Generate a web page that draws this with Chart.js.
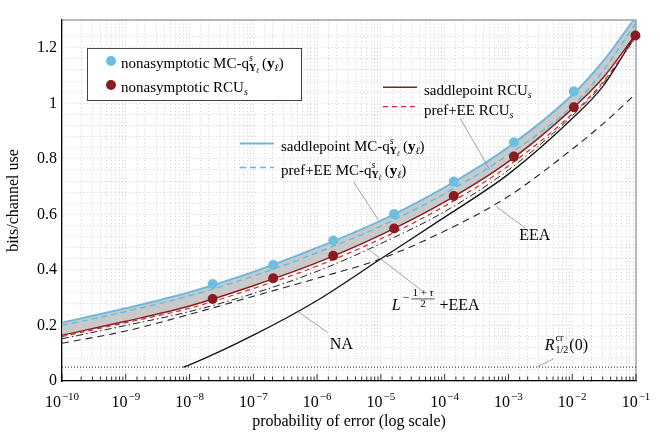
<!DOCTYPE html>
<html>
<head>
<meta charset="utf-8">
<title>bits/channel use vs probability of error</title>
<script src="https://cdn.jsdelivr.net/npm/chart.js@4.4.1/dist/chart.umd.min.js"></script>
<style>
  html, body { margin: 0; padding: 0; background: #fff; }
</style>
</head>
<body>
<canvas id="chart" width="660" height="439"></canvas>
<script>
const pGrid = [1e-10, 1e-9, 1e-8, 1e-7, 1e-6, 1e-5, 1e-4, 1e-3, 1e-2, 3e-2, 1e-1];
const saddleMC  = [0.210, 0.262, 0.320, 0.393, 0.480, 0.578, 0.698, 0.843, 1.030, 1.150, 1.312];
const prefMC    = [0.200, 0.250, 0.307, 0.378, 0.462, 0.558, 0.675, 0.815, 0.990, 1.115, 1.290];
const saddleRCU = [0.165, 0.215, 0.270, 0.343, 0.426, 0.526, 0.645, 0.790, 0.980, 1.090, 1.250];
const prefRCU   = [0.160, 0.210, 0.262, 0.333, 0.414, 0.512, 0.630, 0.775, 0.962, 1.075, 1.240];
const lTauEEA   = [0.152, 0.200, 0.250, 0.315, 0.395, 0.495, 0.610, 0.760, 0.955, 1.070, 1.240];
const eea       = [0.136, 0.180, 0.240, 0.305, 0.370, 0.440, 0.540, 0.665, 0.835, 0.925, 1.035];

// normal approximation starts at the critical rate
const pNA = [8e-9, 1e-8, 1e-7, 1e-6, 1e-5, 1e-4, 1e-3, 1e-2, 3e-2, 1e-1];
const na  = [0.050, 0.058, 0.165, 0.290, 0.440, 0.590, 0.745, 0.945, 1.060, 1.250];

// R^cr_{1/2}(0)
const pRcr = [1e-10, 1e-1];
const rcr  = [0.050, 0.050];

// simulated (nonasymptotic) points
const pDots   = [2.30e-8, 2.05e-7, 1.79e-6, 1.61e-5, 1.39e-4, 1.22e-3, 1.06e-2, 9.8e-2];
const mcDots  = [0.349, 0.418, 0.506, 0.601, 0.718, 0.860, 1.043];
const rcuDots = [0.295, 0.370, 0.451, 0.549, 0.666, 0.808, 0.986, 1.244];

const yLabelStep = 0.2;

const SERIF = "'Liberation Serif', 'DejaVu Serif', 'Times New Roman', serif";
const font = (size, style) => (style ? style + ' ' : '') + size + 'px ' + SERIF;

const BLUE = '#66b8de', BLUE_DASH = '#4fc0ec', BLUE_DOT = '#6dbfe2';
const RED = '#8c1c1c', RED_DASH = '#cc2630', RED_DOT = '#8a1b20';
const BAND = '#c9c9c9';

const pts = (xs, ys) => ys.map((y, i) => ({ x: xs[i], y: y }));

function curve(label, xs, ys, color, width, dash, extra) {
    return Object.assign({
        label: label,
        data: pts(xs, ys),
        borderColor: color,
        borderWidth: width,
        borderDash: dash || [],
        pointRadius: 0,
        fill: false,
        cubicInterpolationMode: 'monotone'
    }, extra || {});
}

const isDecade = v => {
    const e = Math.log10(v);
    return Math.abs(e - Math.round(e)) < 1e-9;
};

// draw a run of text pieces; a piece with stack:true starts at the same x as the piece before it
function drawRich(ctx, x, y, parts, measureOnly) {
    let cx = x, prevX = x, prevW = 0;
    parts.forEach(p => {
        ctx.font = p.font;
        const w = ctx.measureText(p.t).width;
        const px = p.stack ? prevX : cx + (p.gap || 0);
        if (!measureOnly) ctx.fillText(p.t, px, y + (p.dy || 0));
        if (p.stack) {
            cx = Math.max(prevX + prevW, px + w);
            prevW = Math.max(prevW, w);
        } else {
            prevX = px; prevW = w; cx = px + w;
        }
    });
    return cx;
}

// q^s_{Y_l}(y_l)
function qPieces(size) {
    return [
        { t: 's', font: font(10, 'italic'), dy: -7 },
        { t: 'Y', font: font(10, 'bold'), dy: 3, stack: true },
        { t: 'ℓ', font: font(7, 'italic'), dy: 5 },
        { t: '(', font: font(size), gap: 3 },
        { t: 'y', font: font(size, 'bold') },
        { t: 'ℓ', font: font(10, 'italic'), dy: 3 },
        { t: ')', font: font(size) }
    ];
}

function line(ctx, x1, y1, x2, y2) {
    ctx.beginPath(); ctx.moveTo(x1, y1); ctx.lineTo(x2, y2); ctx.stroke();
}

const decor = {
    id: 'decor',
    beforeDatasetsDraw(chart) {
        const { ctx, chartArea: ca, scales: { x } } = chart;
        ctx.save();
        // top and right frame
        ctx.strokeStyle = '#7a7a7a';
        ctx.lineWidth = 1;
        line(ctx, ca.left, ca.top, ca.right, ca.top);
        line(ctx, ca.right, ca.top, ca.right, ca.bottom);
        // tick marks inside the bottom axis
        ctx.strokeStyle = '#000';
        ctx.lineWidth = 0.8;
        x.ticks.forEach(t => {
            const px = x.getPixelForValue(t.value);
            line(ctx, px, ca.bottom, px, ca.bottom - (isDecade(t.value) ? 7 : 4.5));
        });
        // decade labels 10^k under the axis
        ctx.fillStyle = '#000';
        ctx.textBaseline = 'alphabetic';
        ctx.textAlign = 'left';
        x.ticks.filter(t => isDecade(t.value)).forEach(t => {
            const e = Math.round(Math.log10(t.value));
            const parts = [
                { t: '10', font: font(16) },
                { t: (e < 0 ? '\u2212' : '') + Math.abs(e), font: font(11), dy: -7, gap: 1 }
            ];
            const w = drawRich(ctx, 0, 0, parts, true);
            drawRich(ctx, x.getPixelForValue(t.value) - w / 2, ca.bottom + 26, parts);
        });
        ctx.restore();
    },
    afterDatasetsDraw(chart) {
        const { ctx, chartArea: ca, scales: { x, y } } = chart;
        const X = lp => x.getPixelForValue(Math.pow(10, lp));
        const Y = v => y.getPixelForValue(v);
        ctx.save();
        ctx.textBaseline = 'alphabetic';
        ctx.textAlign = 'left';
        ctx.fillStyle = '#000';

        // leader lines of the annotations
        ctx.strokeStyle = '#8a8a8a';
        ctx.lineWidth = 0.8;
        [
            [-5.83, 0.174, -6.30, 0.250],
            [-2.73, 0.550, -3.19, 0.628],
            [-4.33, 0.321, -5.22, 0.478],
            [-2.30, 0.079, -2.54, 0.052],
            [-3.76, 0.947, -3.29, 0.760],
            [-5.43, 0.718, -5.04, 0.580]
        ].forEach(s => line(ctx, X(s[0]), Y(s[1]), X(s[2]), Y(s[3])));

        // annotation texts
        drawRich(ctx, X(-5.80), Y(0.115), [{ t: 'NA', font: font(16) }]);
        drawRich(ctx, X(-2.83), Y(0.508), [{ t: 'EEA', font: font(16) }]);

        // L^{-(1+tau)/2} +EEA
        let lx = X(-4.83), ly = Y(0.256);
        lx = drawRich(ctx, lx, ly, [
            { t: 'L', font: font(16, 'italic') },
            { t: '\u2212', font: font(12), dy: -9, gap: 2 }
        ]);
        ctx.font = font(11);
        const num = '1 + ', tau = 'τ';
        const nw = ctx.measureText(num).width;
        ctx.font = font(11, 'italic');
        const tw = ctx.measureText(tau).width;
        const fw = nw + tw + 2;
        const fx = lx + 2;
        drawRich(ctx, fx + 1, ly - 14, [{ t: num, font: font(11) }, { t: tau, font: font(11, 'italic') }]);
        ctx.strokeStyle = '#000';
        ctx.lineWidth = 0.7;
        line(ctx, fx, ly - 11, fx + fw, ly - 11);
        ctx.font = font(11);
        const dw = ctx.measureText('2').width;
        ctx.fillText('2', fx + (fw - dw) / 2, ly - 3);
        drawRich(ctx, fx + fw + 5, ly, [{ t: '+EEA', font: font(16) }]);

        // R^cr_{1/2}(0)
        drawRich(ctx, X(-2.43), Y(0.112), [
            { t: 'R', font: font(16, 'italic') },
            { t: 'cr', font: font(10), dy: -9, gap: 1 },
            { t: '1/2', font: font(10), dy: 3.5, stack: true },
            { t: '(0)', font: font(16), gap: 1 }
        ]);

        // framed legend with the simulated points
        const bx = ca.left + 25, by = ca.top + 28;
        ctx.fillStyle = '#fff';
        ctx.fillRect(bx, by, 214, 52);
        ctx.strokeStyle = '#444';
        ctx.lineWidth = 1;
        ctx.strokeRect(bx + 0.5, by + 0.5, 214, 52);
        [[BLUE_DOT, 13], [RED_DOT, 37]].forEach(d => {
            ctx.fillStyle = d[0];
            ctx.beginPath();
            ctx.arc(bx + 24, by + d[1], 5, 0, Math.PI * 2);
            ctx.fill();
        });
        ctx.fillStyle = '#000';
        drawRich(ctx, bx + 34, by + 20, [{ t: 'nonasymptotic MC-q', font: font(15) }].concat(qPieces(15)));
        drawRich(ctx, bx + 34, by + 44, [
            { t: 'nonasymptotic RCU', font: font(15) },
            { t: 's', font: font(10, 'italic'), dy: 3 }
        ]);

        // legend of the saddlepoint / prefactor curves
        const rows = [
            [ca.left + 178, ca.top + 123.5, BLUE, [], 1.8, ca.top + 131,
                [{ t: 'saddlepoint MC-q', font: font(15) }].concat(qPieces(15))],
            [ca.left + 178, ca.top + 147.5, BLUE_DASH, [6, 4], 1.3, ca.top + 155,
                [{ t: 'pref+EE MC-q', font: font(15) }].concat(qPieces(15))],
            [ca.left + 321, ca.top + 67.3, RED, [], 1.4, ca.top + 75,
                [{ t: 'saddlepoint RCU', font: font(15) }, { t: 's', font: font(10, 'italic'), dy: 3 }]],
            [ca.left + 321, ca.top + 86.7, RED_DASH, [5, 4], 1.2, ca.top + 95,
                [{ t: 'pref+EE RCU', font: font(15) }, { t: 's', font: font(10, 'italic'), dy: 3 }]]
        ];
        rows.forEach(r => {
            ctx.strokeStyle = r[2];
            ctx.setLineDash(r[3]);
            ctx.lineWidth = r[4];
            line(ctx, r[0], r[1], r[0] + 34, r[1]);
            ctx.setLineDash([]);
            ctx.fillStyle = '#000';
            drawRich(ctx, r[0] + 41, r[5], r[6]);
        });
        ctx.restore();
    }
};

new Chart(document.getElementById('chart'), {
    type: 'line',
    data: {
        datasets: [
            { label: 'nonasymptotic MC', data: pts(pDots, mcDots), showLine: false,
              pointRadius: 5, pointBackgroundColor: BLUE_DOT, pointBorderWidth: 0, clip: false, order: 0 },
            { label: 'nonasymptotic RCU', data: pts(pDots, rcuDots), showLine: false,
              pointRadius: 5, pointBackgroundColor: RED_DOT, pointBorderWidth: 0, clip: false, order: 1 },
            curve('saddlepoint MC', pGrid, saddleMC, BLUE, 1.8, null,
                  { fill: { target: 4 }, backgroundColor: BAND, order: 2 }),
            curve('pref+EE MC', pGrid, prefMC, BLUE_DASH, 1.3, [6, 4], { order: 3 }),
            curve('saddlepoint RCU', pGrid, saddleRCU, RED, 1.4, null, { order: 4 }),
            curve('pref+EE RCU', pGrid, prefRCU, RED_DASH, 1.2, [5, 4], { order: 5 }),
            curve('L^-(1+tau)/2 + EEA', pGrid, lTauEEA, '#222', 1.0, [7, 3, 1.5, 3], { order: 6 }),
            curve('EEA', pGrid, eea, '#222', 1.1, [7, 5], { order: 7 }),
            curve('NA', pNA, na, '#111', 1.3, null, { order: 8 }),
            curve('Rcr', pRcr, rcr, '#222', 1.0, [1, 2], { cubicInterpolationMode: 'default', order: 9 })
        ]
    },
    options: {
        responsive: false,
        animation: false,
        devicePixelRatio: 1,
        layout: { padding: { top: 20, right: 24, left: 0, bottom: 0 } },
        plugins: {
            legend: { display: false },
            tooltip: { enabled: false },
            filler: { drawTime: 'beforeDatasetsDraw' }
        },
        scales: {
            x: {
                type: 'logarithmic',
                min: 1e-10,
                max: 1e-1,
                afterFit: s => { s.height = 58; },
                grid: { color: 'rgba(0,0,0,0.22)', lineWidth: 0.8, drawTicks: false },
                border: { color: '#000', width: 1.3, dash: [1, 2.5] },
                ticks: {
                    autoSkip: false,
                    maxRotation: 0,
                    // the 10^k labels are set with a real superscript by the decor plugin
                    callback: () => ''
                },
                title: {
                    display: true,
                    text: 'probability of error (log scale)',
                    color: '#000',
                    font: { family: SERIF, size: 16 },
                    padding: { top: 0, bottom: 8 }
                }
            },
            y: {
                type: 'linear',
                min: 0,
                max: 1.3,
                afterFit: s => { s.width = 62; },
                grid: { color: 'rgba(0,0,0,0.22)', lineWidth: 0.8, drawTicks: false },
                border: { color: '#000', width: 1.3, dash: [1, 2.5] },
                ticks: {
                    stepSize: 0.04,
                    autoSkip: false,
                    padding: 5,
                    color: '#000',
                    font: { family: SERIF, size: 16 },
                    callback: v => {
                        const k = Math.round(v / yLabelStep);
                        return Math.abs(v - k * yLabelStep) < 1e-6 ? String(+(k * yLabelStep).toFixed(1)) : '';
                    }
                },
                title: {
                    display: true,
                    text: 'bits/channel use',
                    color: '#000',
                    font: { family: SERIF, size: 16 },
                    padding: { top: 4, bottom: 0 }
                }
            }
        }
    },
    plugins: [decor]
});
</script>
</body>
</html>
